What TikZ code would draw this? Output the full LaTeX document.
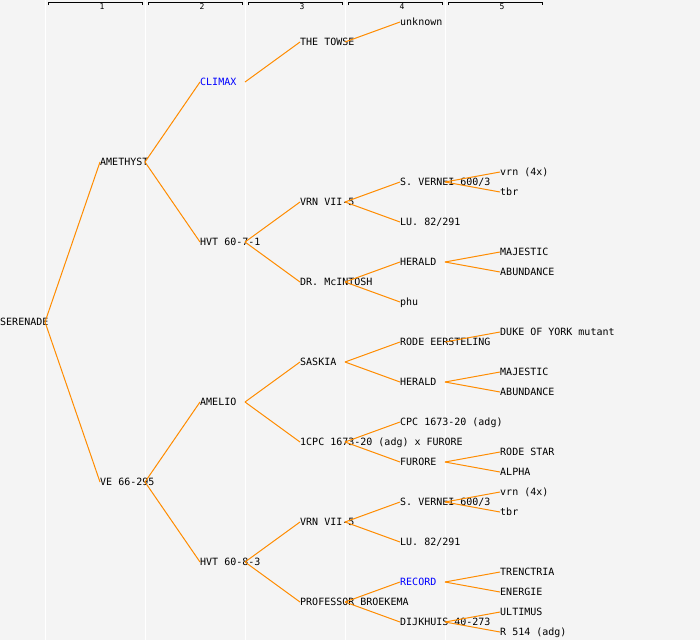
\documentclass[tikz,border=0pt]{standalone}
\usepackage{fontspec}
\setmonofont{DejaVu Sans Mono}
\definecolor{bgray}{RGB}{244,244,244}
\definecolor{edgeorange}{RGB}{255,140,0}
\definecolor{hiblue}{RGB}{0,0,255}
\begin{document}
\begin{tikzpicture}[x=1pt, y=-1pt,
    lbl/.style={anchor=west, inner sep=0pt, text height=7.3pt, text depth=0pt,
                font=\fontsize{10}{10}\selectfont\ttfamily},
    hilbl/.style={lbl, text=hiblue},
    colnum/.style={inner sep=0pt, font=\fontsize{8}{8}\selectfont\ttfamily},
    edge/.style={edgeorange, line width=1pt},
    bracket/.style={black, line width=1pt}]
            \useasboundingbox (0,0) rectangle (700,640);
            \fill[bgray] (0,0) rectangle (700,640);

            \foreach \x in {45,145,245,345,445}{
                \draw[white, line width=1pt] (\x,0) to (\x,640);
            }

            \foreach \k in {1,...,5}{
                \draw[bracket] (100*\k-52,5) -- (100*\k-52,2) -- (100*\k+42,2) -- (100*\k+42,5);
                \node[colnum] (col\k) at (100*\k+2,7) {\k};
            }

            \node[lbl] (ser) at (0, 322) {SERENADE};

            \node[lbl] (ame) at (100, 162) {AMETHYST};
            \node[lbl] (ve) at (100, 482) {VE 66-295};

            \node[hilbl] (cli) at (200, 82) {CLIMAX};
            \node[lbl] (hvta) at (200, 242) {HVT 60-7-1};
            \node[lbl] (mel) at (200, 402) {AMELIO};
            \node[lbl] (hvtb) at (200, 562) {HVT 60-8-3};

            \node[lbl] (tow) at (300, 42) {THE TOWSE};
            \node[lbl] (vrna) at (300, 202) {VRN VII-5};
            \node[lbl] (mci) at (300, 282) {DR. McINTOSH};
            \node[lbl] (sas) at (300, 362) {SASKIA};
            \node[lbl] (cpcx) at (300, 442) {1CPC 1673-20 (adg) x FURORE};
            \node[lbl] (vrnb) at (300, 522) {VRN VII-5};
            \node[lbl] (pro) at (300, 602) {PROFESSOR BROEKEMA};

            \node[lbl] (unk) at (400, 22) {unknown};
            \node[lbl] (sva) at (400, 182) {S. VERNEI 600/3};
            \node[lbl] (lua) at (400, 222) {LU. 82/291};
            \node[lbl] (hera) at (400, 262) {HERALD};
            \node[lbl] (phu) at (400, 302) {phu};
            \node[lbl] (rod) at (400, 342) {RODE EERSTELING};
            \node[lbl] (herb) at (400, 382) {HERALD};
            \node[lbl] (cpc) at (400, 422) {CPC 1673-20 (adg)};
            \node[lbl] (fur) at (400, 462) {FURORE};
            \node[lbl] (svb) at (400, 502) {S. VERNEI 600/3};
            \node[lbl] (lub) at (400, 542) {LU. 82/291};
            \node[hilbl] (rec) at (400, 582) {RECORD};
            \node[lbl] (dij) at (400, 622) {DIJKHUIS 40-273};

            \node[lbl] (vrnxa) at (500, 172) {vrn (4x)};
            \node[lbl] (tbra) at (500, 192) {tbr};
            \node[lbl] (maja) at (500, 252) {MAJESTIC};
            \node[lbl] (abua) at (500, 272) {ABUNDANCE};
            \node[lbl] (duk) at (500, 332) {DUKE OF YORK mutant};
            \node[lbl] (majb) at (500, 372) {MAJESTIC};
            \node[lbl] (abub) at (500, 392) {ABUNDANCE};
            \node[lbl] (rst) at (500, 452) {RODE STAR};
            \node[lbl] (alp) at (500, 472) {ALPHA};
            \node[lbl] (vrnxb) at (500, 492) {vrn (4x)};
            \node[lbl] (tbrb) at (500, 512) {tbr};
            \node[lbl] (tre) at (500, 572) {TRENCTRIA};
            \node[lbl] (ene) at (500, 592) {ENERGIE};
            \node[lbl] (ult) at (500, 612) {ULTIMUS};
            \node[lbl] (rfi) at (500, 632) {R 514 (adg)};

            \foreach \a/\b in {ser/ame, ser/ve,
                               ame/cli, ame/hvta, ve/mel, ve/hvtb,
                               cli/tow, hvta/vrna, hvta/mci, mel/sas, mel/cpcx, hvtb/vrnb, hvtb/pro,
                               tow/unk, vrna/sva, vrna/lua, mci/hera, mci/phu, sas/rod, sas/herb,
                               cpcx/cpc, cpcx/fur, vrnb/svb, vrnb/lub, pro/rec, pro/dij,
                               sva/vrnxa, sva/tbra, hera/maja, hera/abua, rod/duk, herb/majb, herb/abub,
                               fur/rst, fur/alp, svb/vrnxb, svb/tbrb, rec/tre, rec/ene, dij/ult, dij/rfi}{
                \draw[edge] ([xshift=45pt]\a.west) to (\b.west);
            }
        \end{tikzpicture}
\end{document}
